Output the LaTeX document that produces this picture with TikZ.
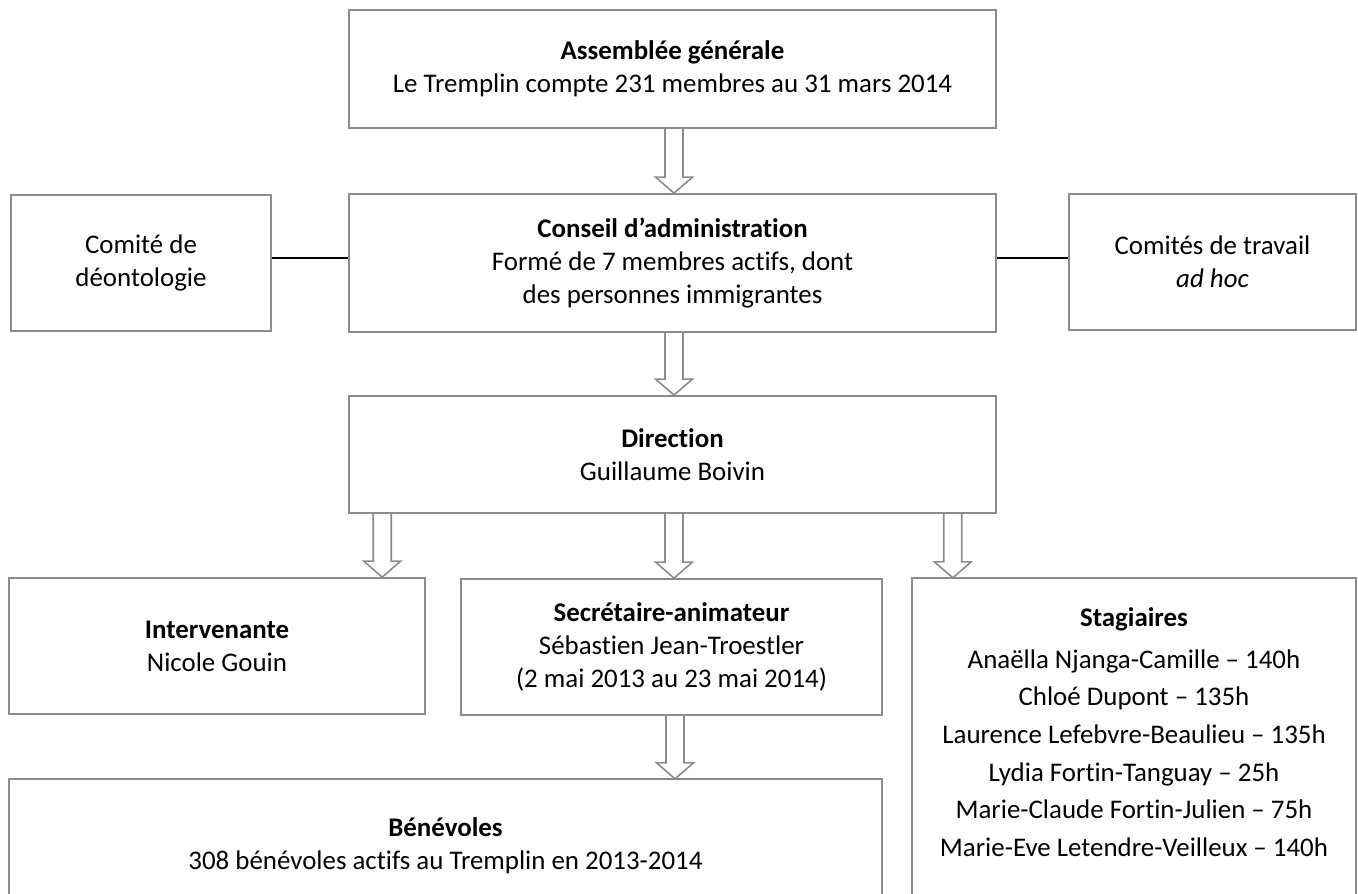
\documentclass[tikz,border=0pt]{standalone}
\usepackage{fontspec}
\setmainfont{Carlito}[Ligatures={NoCommon}]
\usetikzlibrary{calc}
\definecolor{boxgray}{RGB}{140,140,140}
\newcommand{\mainsize}{\fontsize{26.9}{32.8}\selectfont}
\tikzset{
  box/.style={draw=boxgray, line width=1.8pt, rectangle, inner sep=0pt, align=center, font=\mainsize},
  shell/.style={draw=none, rectangle, inner sep=0pt},
  label/.style={inner sep=0pt, align=center, font=\mainsize},
  outline/.style={draw=boxgray, line width=1.8pt},
  barrow/.style={draw=boxgray, line width=1.6pt, line join=miter},
  link/.style={draw=black, line width=1.4pt}
}
\newcommand{\blockarrow}[2]{%
  \draw[barrow] let \p1=#1, \p2=#2 in
    (\x1-9pt,\y1) -- (\x1-9pt,\y2+16pt) -- (\x1-18.5pt,\y2+16pt) -- (\x1,\y2)
    -- (\x1+18.5pt,\y2+16pt) -- (\x1+9pt,\y2+16pt) -- (\x1+9pt,\y1);}
\begin{document}
\begin{tikzpicture}[x=1pt,y=-1pt]
\useasboundingbox (0,0) rectangle (1358,894);
\clip (0,0) rectangle (1358,894);
\node[box, minimum width=647pt, minimum height=118pt] (AG) at (672.5,69)
  {\textbf{Assemblée générale}\\Le Tremplin compte 231 membres au 31 mars 2014};
\node[box, minimum width=647pt, minimum height=138pt] (CA) at (672.5,263)
  {\textbf{Conseil d’administration}\\Formé de 7 membres actifs, dont\\des personnes immigrantes};
\node[box, minimum width=260pt, minimum height=136pt] (CD) at (141,263)
  {Comité de\\déontologie};
\node[box, minimum width=287pt, minimum height=136pt] (CT) at (1212.5,262)
  {Comités de travail\\\textit{ad hoc}};
\node[box, minimum width=647pt, minimum height=117pt] (DIR) at (672.5,454.5)
  {\textbf{Direction}\\Guillaume Boivin};
\node[box, minimum width=416pt, minimum height=136pt] (INT) at (217,646)
  {\textbf{Intervenante}\\Nicole Gouin};
\node[box, minimum width=421pt, minimum height=136pt] (SEC) at (671.5,647)
  {\textbf{Secrétaire-animateur}\\Sébastien Jean-Troestler\\(2 mai 2013 au 23 mai 2014)};
\node[shell, minimum width=444pt, minimum height=330pt] (STAGBOX) at (1134,743) {};
\draw[outline] (STAGBOX.south west) -- (STAGBOX.north west) -- (STAGBOX.north east) -- (STAGBOX.south east);
\node[label] (STAG) at (1134,732)
  {\textbf{Stagiaires}\\[9.2pt]
   Anaëlla Njanga-Camille – 140h\\[4.8pt]
   Chloé Dupont – 135h\\[4.8pt]
   Laurence Lefebvre-Beaulieu – 135h\\[4.8pt]
   Lydia Fortin-Tanguay – 25h\\[4.8pt]
   Marie-Claude Fortin-Julien – 75h\\[4.8pt]
   Marie-Eve Letendre-Veilleux – 140h};
\node[shell, minimum width=873pt, minimum height=130pt] (BENBOX) at (445.5,844) {};
\draw[outline] (BENBOX.south west) -- (BENBOX.north west) -- (BENBOX.north east) -- (BENBOX.south east);
\node[label] (BEN) at (445.5,846)
  {\textbf{Bénévoles}\\308 bénévoles actifs au Tremplin en 2013-2014};
% connectors
\draw[link] ([yshift=5pt]CD.east) -- ([yshift=5pt]CD.east -| CA.west);
\draw[link] ([yshift=5pt]CA.east) -- ([yshift=5pt]CA.east -| CT.west);
\blockarrow{($(AG.south)+(1.5,0)$)}{(CA.north)}
\blockarrow{($(CA.south)+(1.5,0)$)}{(DIR.north)}
\blockarrow{($(DIR.south west)!0.0526!(DIR.south east)$)}{(INT.north)}
\blockarrow{($(DIR.south)+(1.5,0)$)}{(SEC.north)}
\blockarrow{($(DIR.south west)!0.932!(DIR.south east)$)}{(STAGBOX.north)}
\blockarrow{($(SEC.south)+(3.5,0)$)}{(BENBOX.north)}
\end{tikzpicture}
\end{document}
